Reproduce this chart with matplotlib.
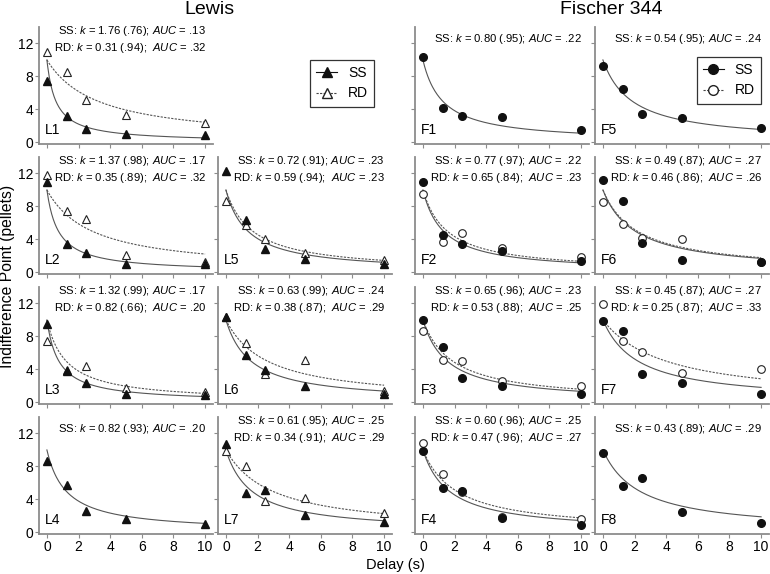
import numpy as np
import matplotlib
matplotlib.use("Agg")
import matplotlib.pyplot as plt
from matplotlib.lines import Line2D

plt.rcParams['font.family'] = ['Liberation Sans', 'DejaVu Sans']
plt.rcParams['mathtext.fontset'] = 'custom'
plt.rcParams['mathtext.rm'] = 'Liberation Sans'
plt.rcParams['mathtext.it'] = 'Liberation Sans:italic'

# Delays (s)
delays = [0, 1.25, 2.5, 5, 10]

# Lewis rats: indifference points (pellets)
L_ss = {
    'L1': [7.4, 3.2, 1.6, 1.0, 0.9],
    'L2': [11.0, 3.5, 2.4, 1.0, 1.0],
    'L3': [9.5, 3.8, 2.4, 1.0, 0.9],
    'L4': [8.7, 5.7, 2.6, 1.6, 1.0],
    'L5': [12.3, 6.4, 2.8, 1.6, 1.0],
    'L6': [10.4, 5.8, 3.9, 2.0, 1.0],
    'L7': [10.7, 4.8, 5.1, 2.1, 1.3],
}
L_rd = {
    'L1': [11.0, 8.5, 5.2, 3.3, 2.4],
    'L2': [11.8, 7.5, 6.5, 2.1, 1.3],
    'L3': [7.5, 3.9, 4.4, 1.7, 1.2],
    'L5': [8.6, 5.8, 4.0, 2.4, 1.5],
    'L6': [10.4, 7.2, 3.4, 5.1, 1.4],
    'L7': [9.9, 8.0, 3.8, 4.2, 2.4],
}
# Fischer 344 rats
F_ss = {
    'F1': [10.3, 4.2, 3.2, 3.1, 1.5],
    'F2': [11.0, 4.5, 3.5, 2.6, 1.4],
    'F3': [10.0, 6.7, 3.0, 2.0, 1.0],
    'F4': [9.9, 5.4, 5.0, 1.8, 0.9],
    'F5': [9.3, 6.5, 3.4, 2.9, 1.8],
    'F6': [11.2, 8.7, 3.6, 1.5, 1.2],
    'F7': [9.9, 8.7, 3.5, 2.4, 1.0],
    'F8': [9.6, 5.6, 6.6, 2.5, 1.1],
}
F_rd = {
    'F2': [9.5, 3.7, 4.8, 3.0, 1.9],
    'F3': [8.6, 5.1, 5.0, 2.6, 2.0],
    'F4': [10.9, 7.1, 4.9, 1.9, 1.6],
    'F6': [8.5, 5.9, 4.2, 4.1, 1.3],
    'F7': [11.9, 7.5, 6.1, 3.6, 4.1],
}

# fitted hyperbolic k (R^2) and AUC
k_ss = {'L1': (1.76, '.76', '.13'), 'L2': (1.37, '.98', '.17'), 'L3': (1.32, '.99', '.17'),
        'L4': (0.82, '.93', '.20'), 'L5': (0.72, '.91', '.23'), 'L6': (0.63, '.99', '.24'),
        'L7': (0.61, '.95', '.25'),
        'F1': (0.80, '.95', '.22'), 'F2': (0.77, '.97', '.22'), 'F3': (0.65, '.96', '.23'),
        'F4': (0.60, '.96', '.25'), 'F5': (0.54, '.95', '.24'), 'F6': (0.49, '.87', '.27'),
        'F7': (0.45, '.87', '.27'), 'F8': (0.43, '.89', '.29')}
k_rd = {'L1': (0.31, '.94', '.32'), 'L2': (0.35, '.89', '.32'), 'L3': (0.82, '.66', '.20'),
        'L5': (0.59, '.94', '.23'), 'L6': (0.38, '.87', '.29'), 'L7': (0.34, '.91', '.29'),
        'F2': (0.65, '.84', '.23'), 'F3': (0.53, '.88', '.25'), 'F4': (0.47, '.96', '.27'),
        'F6': (0.46, '.86', '.26'), 'F7': (0.25, '.87', '.33')}

amount = 10  # undelayed amount

# panel grid: (row, col) -> subject
layout = {(0, 0): 'L1', (1, 0): 'L2', (2, 0): 'L3', (3, 0): 'L4',
          (1, 1): 'L5', (2, 1): 'L6', (3, 1): 'L7',
          (0, 2): 'F1', (1, 2): 'F2', (2, 2): 'F3', (3, 2): 'F4',
          (0, 3): 'F5', (1, 3): 'F6', (2, 3): 'F7', (3, 3): 'F8'}

W, H = 770, 574
fig = plt.figure(figsize=(W / 100, H / 100), dpi=100)

col_left = [39, 218, 415, 595]
row_top = [27, 157, 287, 417]
aw, ah = 174, 117
spine_c = '#8c8c8c'
curve_c = '#555555'
xx = np.linspace(0, 10, 200)

for (r, c), name in layout.items():
    ax = fig.add_axes([col_left[c] / W, 1 - (row_top[r] + ah) / H, aw / W, ah / H])
    ax.set_xlim(-0.5, 10.5)
    ax.set_ylim(-0.2, 14)
    for s in ['top', 'right']:
        ax.spines[s].set_visible(False)
    for s in ['left', 'bottom']:
        ax.spines[s].set_color(spine_c)
        ax.spines[s].set_linewidth(1.3)
    ax.set_xticks([0, 2, 4, 6, 8, 10])
    ax.set_yticks([0, 4, 8, 12])
    ax.tick_params(length=3, width=0.8, color=spine_c, labelsize=10, pad=1)
    if c != 0:
        ax.set_yticklabels([])
    if r != 3:
        ax.set_xticklabels([])

    lewis = name.startswith('L')
    ss = (L_ss if lewis else F_ss)[name]
    rd = (L_rd if lewis else F_rd).get(name)
    mk = '^' if lewis else 'o'
    ms = 5.8 if lewis else 5.5

    k, r2, auc = k_ss[name]
    ax.plot(xx, amount / (1 + k * xx), color=curve_c, lw=0.8, zorder=2)
    lines = ['SS: $k$ = %.2f (%s); $AUC$ = %s' % (k, r2, auc)]
    if rd is not None:
        k2, r22, auc2 = k_rd[name]
        ax.plot(xx, amount / (1 + k2 * xx), color=curve_c, lw=0.8, ls=(0, (2, 1.2)), zorder=2)
        ax.plot(delays, rd, ls='none', marker=mk, ms=ms, mfc='white', mec='#222222', mew=0.8, zorder=3)
        lines.append('RD: $k$ = %.2f (%s);  $AUC$ = %s' % (k2, r22, auc2))
    ax.plot(delays, ss, ls='none', marker=mk, ms=ms, color='#111111', zorder=4)

    ax.text(0.96, 0.895, '\n'.join(lines), transform=ax.transAxes, ha='right', va='center',
            fontsize=8.1, linespacing=1.35)
    ax.text(0.035, 0.12, name, transform=ax.transAxes, ha='left', va='center', fontsize=10)

# legends
h_ss_L = Line2D([], [], color='#111111', lw=0.8, marker='^', ms=7)
h_rd_L = Line2D([], [], color='#444444', lw=0.8, ls=(0, (2, 1.2)), marker='^', ms=7,
                mfc='white', mec='#222222')
fig.legend([h_ss_L, h_rd_L], ['SS', 'RD'], loc='upper left', bbox_to_anchor=(303 / W, 1 - 53 / H),
           fontsize=10, frameon=True, fancybox=False, edgecolor='black', handlelength=1.5,
           borderpad=0.45, labelspacing=0.45, handletextpad=0.8).get_frame().set_linewidth(0.9)
h_ss_F = Line2D([], [], color='#111111', lw=0.8, marker='o', ms=7)
h_rd_F = Line2D([], [], color='#444444', lw=0.8, ls=(0, (2, 1.2)), marker='o', ms=7,
                mfc='white', mec='#222222')
fig.legend([h_ss_F, h_rd_F], ['SS', 'RD'], loc='upper right', bbox_to_anchor=(768 / W, 1 - 50 / H),
           fontsize=10, frameon=True, fancybox=False, edgecolor='black', handlelength=1.5,
           borderpad=0.45, labelspacing=0.45, handletextpad=0.8).get_frame().set_linewidth(0.9)

fig.text(209 / W, 1 - 9 / H, 'Lewis', ha='center', va='center', fontsize=14)
fig.text(611 / W, 1 - 9 / H, 'Fischer 344', ha='center', va='center', fontsize=14)
fig.text(8 / W, 1 - 276 / H, 'Indifference Point (pellets)', rotation=90, ha='center', va='center',
         fontsize=11.3)
fig.text(395 / W, 1 - 565 / H, 'Delay (s)', ha='center', va='center', fontsize=10.5)

fig.savefig('out.png', dpi=100)
